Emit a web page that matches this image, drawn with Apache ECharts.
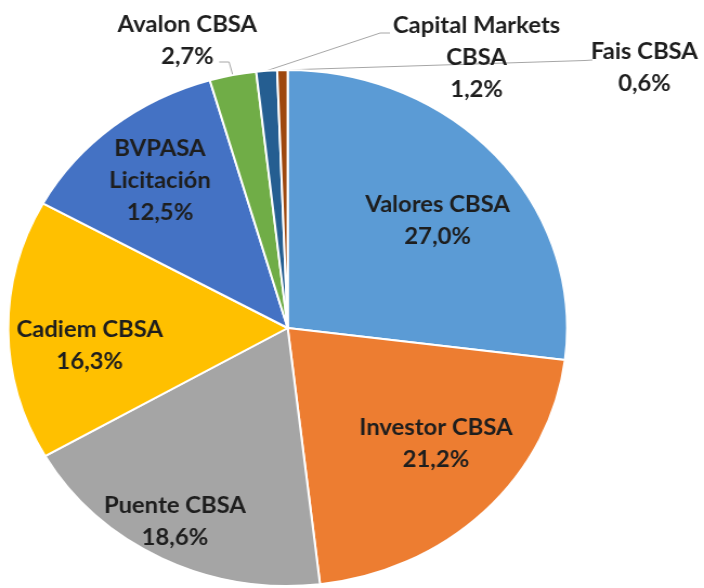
<!DOCTYPE html>
<html>
<head>
<meta charset="utf-8">
<script src="https://cdn.jsdelivr.net/npm/echarts@6/dist/echarts.min.js"></script>
<style>
  html, body { margin: 0; padding: 0; background: #fff; overflow: hidden; }
  /* the source picture is an ellipse: draw a circle and stretch it sideways */
  #chart { width: 650px; height: 588px; transform: scaleX(1.0831); transform-origin: 0 0; }
</style>
</head>
<body>
<div id="chart"></div>
<script>
// slice data, clockwise from 12 o'clock
const names = [
  'Valores CBSA', 'Investor CBSA', 'Puente CBSA', 'Cadiem CBSA',
  'BVPASA\nLicitación', 'Avalon CBSA', 'Capital Markets\nCBSA', 'Fais CBSA'
];
const shares = [27.0, 21.2, 18.6, 16.3, 12.5, 2.7, 1.2, 0.6];
const colors = ['#5b9bd5', '#ed7d31', '#a5a5a5', '#ffc000', '#4472c4', '#70ad47', '#255e91', '#9e480e'];

// slices labelled outside the pie (with leader lines)
const outsideIdx = [5, 6, 7];

const CX = 265.6, CY = 328, R = 258;
const TEXT = '#1e1e1e';

function fmt(v) {
  return v.toFixed(1).replace('.', ',') + '%';
}

// small shifts of the inside labels
const insideNudge = {
  0: [-3, 18],
  1: [4, -18],
  2: [-19, 25],
  3: [6, 16],
  4: [0, 0]
};

// where the outside labels and their leader lines go
const outsideLayout = {
  5: { x: 173, y: 41, line: [[211.5, 62], [202.3, 62]] },
  6: { x: 440, y: 58, line: [[351, 33], [360, 33]] },
  7: { x: 595, y: 68, line: [[540, 60.5], [547, 60]] }
};

const labelFont = {
  color: TEXT,
  fontFamily: 'Lato',
  fontWeight: 'bold',
  fontSize: 22,
  lineHeight: 32
};

const chart = echarts.init(document.getElementById('chart'));

chart.setOption({
  animation: false,
  color: colors,
  series: [
    {
      type: 'pie',
      center: [CX, CY],
      radius: R,
      startAngle: 90,
      clockwise: true,
      avoidLabelOverlap: false,
      itemStyle: { borderColor: '#fff', borderWidth: 2 },
      label: Object.assign({
        show: true,
        position: 'outside',
        align: 'center',
        formatter: (p) => p.name + '\n' + fmt(p.value)
      }, labelFont),
      labelLine: {
        show: true,
        length: 10,
        length2: 10,
        lineStyle: { color: '#a6a6a6', width: 1 }
      },
      labelLayout: (params) => {
        const o = outsideLayout[params.dataIndex];
        if (!o) return {};
        return {
          x: o.x,
          y: o.y,
          align: 'center',
          verticalAlign: 'middle',
          labelLinePoints: [params.labelLinePoints[0]].concat(o.line)
        };
      },
      data: names.map((n, i) => ({
        name: n,
        value: shares[i],
        label: { show: outsideIdx.includes(i) },
        labelLine: { show: outsideIdx.includes(i) }
      }))
    },
    {
      // transparent copy that only carries the inside labels
      type: 'pie',
      center: [CX, CY],
      radius: [R * 0.44, R],
      startAngle: 90,
      clockwise: true,
      silent: true,
      itemStyle: { color: 'transparent' },
      label: Object.assign({
        show: true,
        position: 'inside',
        align: 'center',
        formatter: (p) => p.name + '\n' + fmt(p.value)
      }, labelFont),
      labelLine: { show: false },
      labelLayout: (params) => {
        const n = insideNudge[params.dataIndex];
        return n ? { dx: n[0], dy: n[1] } : {};
      },
      data: names.map((n, i) => ({
        name: n,
        value: shares[i],
        label: { show: !outsideIdx.includes(i) }
      }))
    }
  ]
});
</script>
</body>
</html>
